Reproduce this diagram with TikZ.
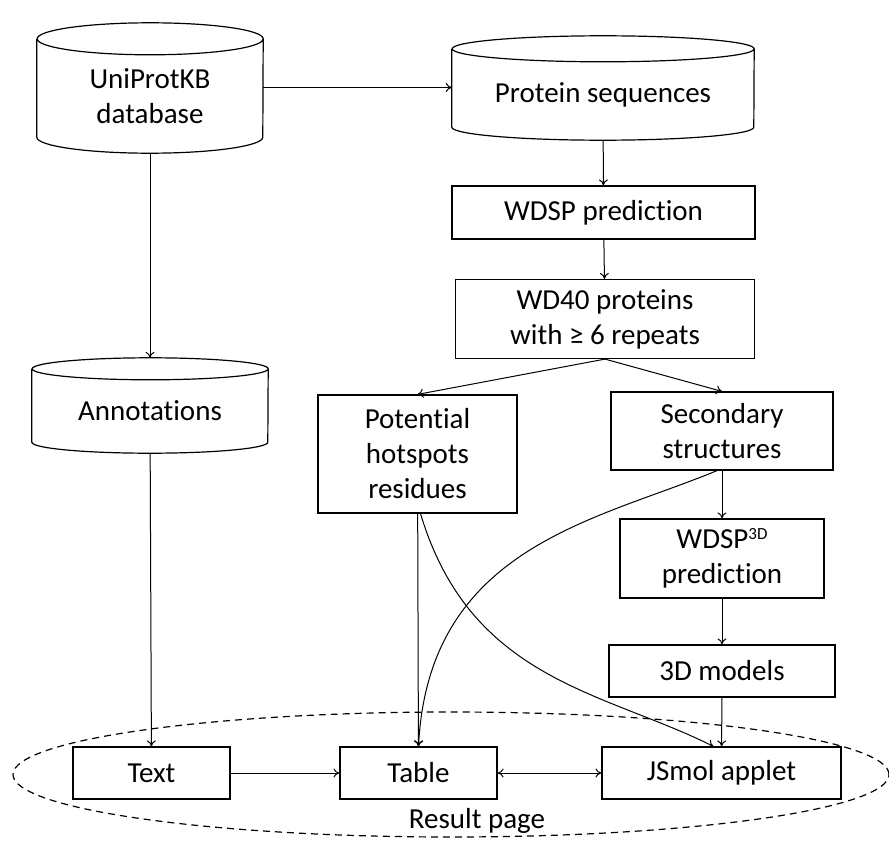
\documentclass[tikz,border=0pt]{standalone}
\usepackage{fontspec}
\setmainfont{Carlito}[Ligatures=NoCommon]
\usetikzlibrary{shapes.geometric, arrows.meta}

\tikzset{
  box/.style={draw, rectangle, align=center, line width=1.2pt, inner sep=2pt},
  dbbody/.style={rectangle, align=center, inner sep=0pt},
  arr/.style={line width=1pt, -{To[length=6pt, width=9pt]}},
}
% outline of a database drum round a body node: #1 node, #2 x radius, #3 y radius
\newcommand{\drum}[3]{%
  \draw[line width=1.2pt] (#1.north west) -- ([yshift=#3]#1.south west)
    arc[start angle=180, end angle=360, x radius=#2, y radius=#3]
    -- (#1.north east) arc[start angle=0, end angle=360, x radius=#2, y radius=#3];}

\begin{document}
\begin{tikzpicture}[x=1pt, y=-1pt, font=\fontsize{29}{35}\selectfont]
\useasboundingbox (0,0) rectangle (889,843);

% databases
\node [dbbody, minimum width=226pt, minimum height=114pt] (uni) at (150,96) {UniProtKB\\database};
\node [dbbody, minimum width=302pt, minimum height=91pt] (prot) at (603,94.5) {Protein sequences};
\node [dbbody, minimum width=236pt, minimum height=84pt] (annot) at (150,411) {Annotations};
\drum{uni}{113pt}{16pt}
\drum{prot}{151pt}{13pt}
\drum{annot}{118pt}{11pt}

% prediction boxes
\node [box, minimum width=303pt, minimum height=53pt] (wdsp) at (603.5,212.5) {WDSP prediction};
\node [box, minimum width=299pt, minimum height=79pt] (wd40) at (605,319) {WD40 proteins\\with ≥ 6 repeats};
\node [box, minimum width=199pt, minimum height=118pt] (pot) at (417.5,454) {Potential\\hotspots\\residues};
\node [box, minimum width=222pt, minimum height=78pt] (sec) at (722,431) {Secondary\\structures};
\node [box, minimum width=204pt, minimum height=79pt] (wd3d) at (722,558.5) {WDSP\raisebox{9pt}{\fontsize{17}{17}\selectfont 3D}\\prediction};
\node [box, minimum width=226pt, minimum height=52pt] (models) at (722,671) {3D models};

% result page
\node [draw, ellipse, line width=1.2pt, dash pattern=on 7pt off 5pt, minimum width=876pt, minimum height=125pt] (page) at (451,774.5) {};
\node (pagelbl) at (477,821) {Result page};
\node [box, minimum width=157pt, minimum height=52pt] (text) at (151.5,773) {Text};
\node [box, minimum width=157pt, minimum height=52pt] (table) at (418.5,773) {Table};
\node [box, minimum width=239pt, minimum height=52pt] (jsmol) at (721.5,773) {JSmol applet};

% arrows
\draw [arr] ([yshift=8.5pt]uni.east) -- ([yshift=8.5pt]uni.east -| prot.west);
\draw [arr] (uni.south) -- ([yshift=11pt]annot.north);
\draw [arr] (prot) -- (wdsp);
\draw [arr] (wdsp) -- (wd40);
\draw [arr] (wd40.south) -- (pot.north);
\draw [arr] (wd40.south) -- (sec.north);
\draw [arr] (sec) -- (wd3d);
\draw [arr] (wd3d) -- (models);
\draw [arr] (models) -- (jsmol);
\draw [arr] (annot) -- (text);
\draw [arr] (pot) -- (table);
\draw [arr] ([xshift=3pt]pot.south) .. controls +(50,167) and +(-110,-55) .. ([xshift=-8pt]jsmol.north);
\draw [arr] ([xshift=-5pt]sec.south) .. controls +(-120,50) and +(10,-200) .. (table.north);
\draw [arr] (text) -- (table);
\draw [line width=1pt, {To[length=6pt, width=9pt]}-{To[length=6pt, width=9pt]}] (table) -- (jsmol);
\end{tikzpicture}
\end{document}
